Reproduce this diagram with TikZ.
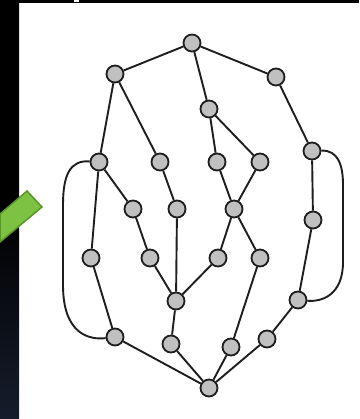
\documentclass[tikz,border=0pt]{standalone}
\usetikzlibrary{shadings}
\definecolor{navy}{RGB}{22,28,44}
\definecolor{arrowgreen}{RGB}{125,194,66}
\definecolor{arrowedge}{RGB}{88,150,40}
\definecolor{edgecol}{RGB}{30,30,30}
\definecolor{nodefill}{RGB}{192,192,192}
\tikzset{
  vtx/.style={circle, draw=edgecol, line width=1.8pt, fill=nodefill, minimum size=17pt, inner sep=0pt},
  link/.style={draw=edgecol, line width=1.9pt},
}
\begin{document}
\begin{tikzpicture}[x=1pt,y=-1pt]
\useasboundingbox (0,0) rectangle (359,419);
\fill[white] (0,0) rectangle (359,419);
% dark frame
\shade[top color=black, bottom color=navy, middle color=black] (0,0) rectangle (19,419);
\fill[black] (0,0) rectangle (359,3);
\fill[white] (74,0) rectangle (79,2);
% green arrow tail
\draw[fill=arrowgreen, draw=arrowedge, line width=1.5pt] (27,191) -- (42,207) -- (0,242) -- (0,214) -- cycle;

% vertices
\node[vtx] (n1) at (192,43) {};
\node[vtx] (n2) at (115,74) {};
\node[vtx] (n3) at (276,77) {};
\node[vtx] (n4) at (209,109) {};
\node[vtx] (n5) at (99,162) {};
\node[vtx] (n6) at (160,162) {};
\node[vtx] (n7) at (217,162) {};
\node[vtx] (n8) at (260,162) {};
\node[vtx] (n9) at (312,151) {};
\node[vtx] (n10) at (133,209) {};
\node[vtx] (n11) at (177,209) {};
\node[vtx] (n12) at (234,209) {};
\node[vtx] (n13) at (313,220) {};
\node[vtx] (n14) at (91,258) {};
\node[vtx] (n15) at (150,258) {};
\node[vtx] (n16) at (218,258) {};
\node[vtx] (n17) at (260,258) {};
\node[vtx] (n18) at (176,301) {};
\node[vtx] (n19) at (298,300) {};
\node[vtx] (n20) at (115,337) {};
\node[vtx] (n21) at (171,344) {};
\node[vtx] (n22) at (231,347) {};
\node[vtx] (n23) at (267,339) {};
\node[vtx] (n24) at (209,388) {};

% edges
\path[link] (n1) -- (n2);
\path[link] (n1) -- (n3);
\path[link] (n1) -- (n4);
\path[link] (n2) -- (n5);
\path[link] (n2) -- (n6);
\path[link] (n3) -- (n9);
\path[link] (n4) -- (n7);
\path[link] (n4) -- (n8);
\path[link] (n5) -- (n14);
\path[link] (n5) -- (n10);
\path[link] (n6) -- (n11);
\path[link] (n7) -- (n12);
\path[link] (n8) -- (n12);
\path[link] (n9) -- (n13);
\path[link] (n10) -- (n15);
\path[link] (n11) -- (n18);
\path[link] (n12) -- (n16);
\path[link] (n12) -- (n17);
\path[link] (n13) -- (n19);
\path[link] (n14) -- (n20);
\path[link] (n15) -- (n18);
\path[link] (n16) -- (n18);
\path[link] (n17) -- (n22);
\path[link] (n18) -- (n21);
\path[link] (n19) -- (n23);
\path[link] (n20) -- (n24);
\path[link] (n21) -- (n24);
\path[link] (n22) -- (n24);
\path[link] (n23) -- (n24);
% loops
\path[link] (n5) .. controls (70,160) and (63,175) .. (63,205) -- (63,285) .. controls (63,335) and (90,340) .. (n20);
\path[link] (n9) .. controls (338,150) and (343,165) .. (343,185) -- (343,262) .. controls (343,295) and (322,302) .. (n19);
\end{tikzpicture}
\end{document}
